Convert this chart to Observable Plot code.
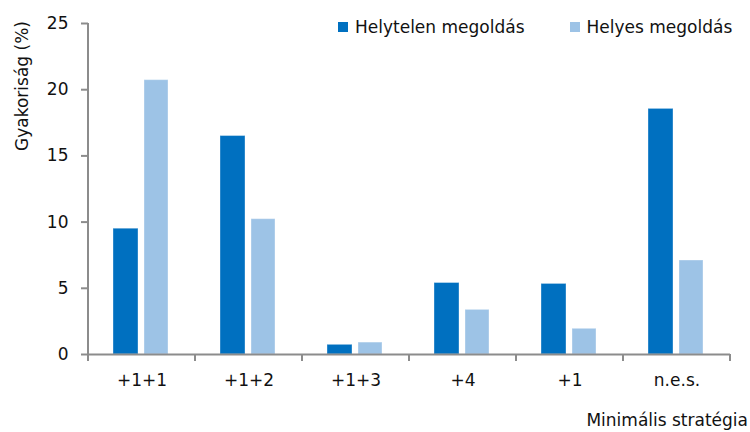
<!DOCTYPE html>
<html>
<head>
<meta charset="utf-8">
<script src="https://cdn.jsdelivr.net/npm/d3@7"></script>
<script src="https://cdn.jsdelivr.net/npm/@observablehq/plot@0.6"></script>
<style>
  body { margin: 0; background: #fff; }
  #wrap { position: relative; width: 750px; height: 432px; font-family: "DejaVu Sans", sans-serif; color: #111; }
  .lbl { position: absolute; font-size: 17px; white-space: nowrap; line-height: 20px; }
  .sw { display: inline-block; width: 10px; height: 10px; margin-right: 7px; vertical-align: 1px; }
  svg text { font-size: 17px; }
</style>
</head>
<body>
<div id="wrap"></div>
<script>
const categories = ["+1+1", "+1+2", "+1+3", "+4", "+1", "n.e.s."];
const seriesNames = ["Helytelen megoldás", "Helyes megoldás"];
const helytelen = [9.5, 16.5, 0.73, 5.4, 5.33, 18.55];
const helyes = [20.72, 10.22, 0.9, 3.37, 1.94, 7.1];
const colors = ["#0070c0", "#9dc3e6"];
const yTicks = [0, 5, 10, 15, 20, 25];
const yTitle = "Gyakoriság (%)";
const xTitle = "Minimális stratégia";

const rows = [];
categories.forEach((c, i) => {
  rows.push({cat: c, series: seriesNames[0], value: helytelen[i]});
  rows.push({cat: c, series: seriesNames[1], value: helyes[i]});
});

const axisGray = "#8c8c8c";

const chart = Plot.plot({
  width: 750,
  height: 432,
  marginLeft: 88,
  marginRight: 20,
  marginTop: 23,
  marginBottom: 78,
  style: {fontFamily: "DejaVu Sans, sans-serif", fontSize: "17px", color: "#111", background: "#fff"},
  x: {domain: categories, padding: 0, label: null, axis: null},
  y: {domain: [0, 25], label: null, axis: null},
  color: {domain: seriesNames, range: colors},
  marks: [
    Plot.barY(rows.filter(d => d.series === seriesNames[0]), {x: "cat", y: "value", fill: "series", insetLeft: 25, insetRight: 57, stroke: "#ffffff", strokeOpacity: 0.35, strokeWidth: 1}),
    Plot.barY(rows.filter(d => d.series === seriesNames[1]), {x: "cat", y: "value", fill: "series", insetLeft: 56, insetRight: 27, stroke: "#ffffff", strokeOpacity: 0.35, strokeWidth: 1}),
    Plot.axisY({ticks: yTicks, tickSize: 7, tickPadding: 13, stroke: axisGray, strokeWidth: 2, label: null, fill: "#111", fontSize: 17}),
    Plot.axisX({tickSize: 0, tickPadding: 19, label: null, fill: "#111", fontSize: 17}),
    Plot.ruleY([0], {stroke: axisGray, strokeWidth: 2})
  ]
});

// y-axis line and category boundary ticks from the library's scales
const xs = chart.scale("x"), ys = chart.scale("y");
const svg = d3.select(chart);
const y0 = ys.apply(0), yTop = ys.apply(25);
const bounds = categories.map(c => xs.apply(c));
bounds.push(xs.apply(categories[categories.length - 1]) + xs.bandwidth);
svg.append("line").attr("x1", bounds[0]).attr("x2", bounds[0]).attr("y1", yTop).attr("y2", y0 + 7)
  .attr("stroke", axisGray).attr("stroke-width", 2);
bounds.forEach(b => {
  svg.append("line").attr("x1", b).attr("x2", b).attr("y1", y0).attr("y2", y0 + 7)
    .attr("stroke", axisGray).attr("stroke-width", 2);
});

const wrap = document.getElementById("wrap");
wrap.appendChild(chart);
chart.style.position = "absolute";
chart.style.left = "0px";
chart.style.top = "0px";

// legend
const leg = document.createElement("div");
leg.className = "lbl";
leg.style.left = "338px";
leg.style.top = "17px";
leg.innerHTML = seriesNames.map((s, i) =>
  `<span style="margin-right:${i === 0 ? 45 : 0}px"><span class="sw" style="background:${colors[i]}"></span>${s}</span>`
).join("");
wrap.appendChild(leg);

// y title
const yt = document.createElement("div");
yt.className = "lbl";
yt.textContent = yTitle;
yt.style.left = "22px";
yt.style.top = "86px";
yt.style.transform = "translate(-50%, -50%) rotate(-90deg)";
wrap.appendChild(yt);

// x title
const xt = document.createElement("div");
xt.className = "lbl";
xt.textContent = xTitle;
xt.style.right = "2px";
xt.style.top = "410px";
wrap.appendChild(xt);
</script>
</body>
</html>
